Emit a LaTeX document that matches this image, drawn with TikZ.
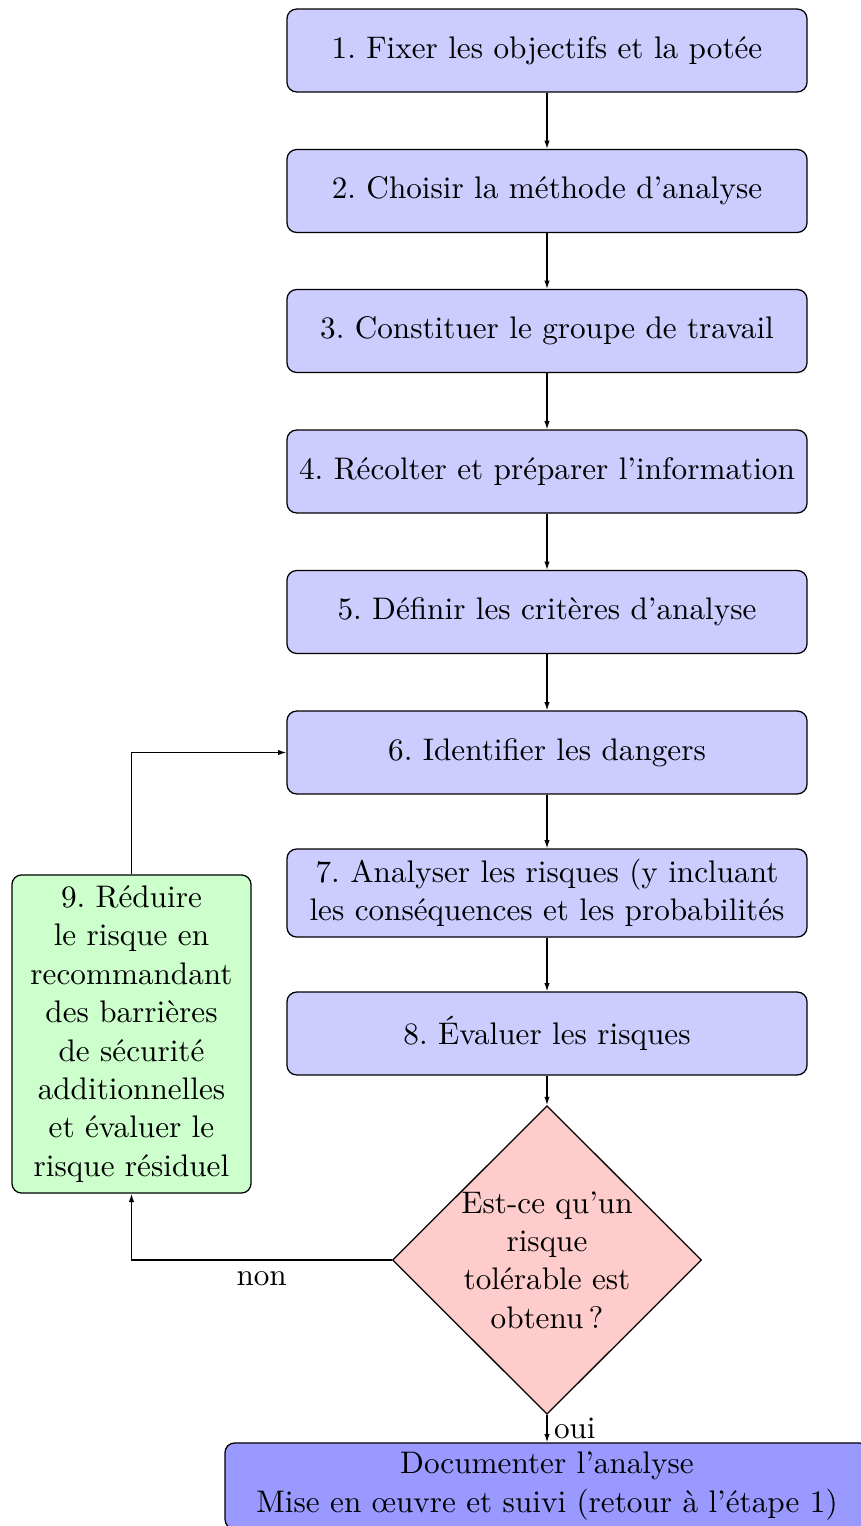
\documentclass[tikz,border=0pt]{standalone}
\usetikzlibrary{shapes.geometric,arrows.meta}
\begin{document}
\frenchspacing
\fontsize{9.75}{12}\selectfont
\begin{tikzpicture}[x=0.3125pt,y=-0.3125pt,
  font=\fontsize{9.75}{12}\selectfont,
  box/.style={draw, rounded corners=3pt, fill=blue!20, minimum width=162.5pt, minimum height=25.9pt, align=center, inner sep=2pt},
  greenbox/.style={draw, rounded corners=3pt, fill=green!20, minimum width=74.7pt, minimum height=99.4pt, align=center, inner sep=2pt},
  decision/.style={draw, diamond, fill=red!20, minimum width=96.6pt, minimum height=96.3pt, align=center, inner sep=0pt},
  endbox/.style={draw, rounded corners=3pt, fill=blue!40, minimum width=201.25pt, minimum height=26.9pt, align=center, inner sep=2pt},
  arr/.style={-{Latex[length=2.6pt,width=1.7pt]}}]
\useasboundingbox (0,0) rectangle (860,1526);
\node[box] (b1) at (547,50.5) {1. Fixer les objectifs et la potée};
\node[box] (b2) at (547,191) {2. Choisir la méthode d’analyse};
\node[box] (b3) at (547,331) {3. Constituer le groupe de travail};
\node[box] (b4) at (547,471.5) {4. Récolter et préparer l’information};
\node[box] (b5) at (547,612) {5. Définir les critères d’analyse};
\node[box] (b6) at (547,752.5) {6. Identifier les dangers};
\node[box, minimum height=27.5pt] (b7) at (547,893) {7. Analyser les risques (y incluant\\les conséquences et les probabilités};
\node[box] (b8) at (547,1033.5) {8. Évaluer les risques};
\node[greenbox] (b9) at (131.5,1034) {9. Réduire\\le risque en\\recommandant\\des barrières\\de sécurité\\additionnelles\\et évaluer le\\risque résiduel};
\node[decision] (d) at (547,1260) {Est-ce qu’un\\risque\\tolérable est\\obtenu\,?};
\node[endbox] (e) at (547,1486) {Documenter l’analyse\\Mise en œuvre et suivi (retour à l’étape 1)};
\draw[arr] (b1) -- (b2);
\draw[arr] (b2) -- (b3);
\draw[arr] (b3) -- (b4);
\draw[arr] (b4) -- (b5);
\draw[arr] (b5) -- (b6);
\draw[arr] (b6) -- (b7);
\draw[arr] (b7) -- (b8);
\draw[arr] (b8) -- (d);
\draw[arr] (d.south) -- node[right, inner sep=2pt] {oui} (e.north);
\draw[arr] (d.west) -| node[pos=0.25, below] {non} (b9.south);
\draw[arr] (b9.north) |- (b6.west);
\end{tikzpicture}
\end{document}
